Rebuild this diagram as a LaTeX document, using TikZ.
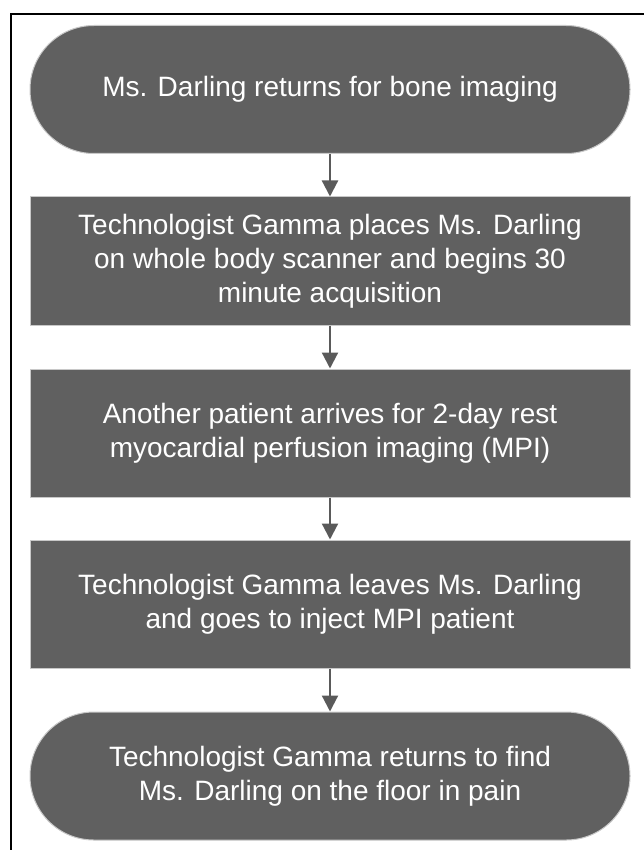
\documentclass[tikz,border=0pt]{standalone}
\usepackage{fontspec}
\setmainfont{Liberation Sans}
\usetikzlibrary{arrows.meta}
\definecolor{boxfill}{HTML}{606060}
\definecolor{boxedge}{HTML}{C8C8C8}
\definecolor{linkgray}{HTML}{5A5A5A}
\tikzset{
  flowbox/.style={draw=boxedge, line width=1pt, fill=boxfill, text=white,
    minimum width=600pt, minimum height=128pt, align=center, inner sep=0pt,
    font=\fontsize{28pt}{34pt}\selectfont},
  terminal/.style={flowbox, rounded corners=63.9pt},
  link/.style={draw=linkgray, line width=2.2pt,
    -{Triangle[length=16pt,width=16pt]}, shorten >=0pt}
}
\begin{document}
\begin{tikzpicture}[x=1pt,y=1pt]
  \useasboundingbox (0,0) rectangle (644,-850);
  % outer frame, running past the right and bottom edges
  \begin{scope}
    \clip (0,0) rectangle (644,-850);
    \draw[line width=2.2pt] (11,-14) rectangle (660,-870);
  \end{scope}
  \node[terminal] (n1) at (330,-89.5) {Ms. Darling returns for bone imaging};
  \node[flowbox]  (n2) at (330,-261) {Technologist Gamma places Ms. Darling\\on whole body scanner and begins 30\\minute acquisition};
  \node[flowbox]  (n3) at (330,-433) {Another patient arrives for 2-day rest\\myocardial perfusion imaging (MPI)};
  \node[flowbox]  (n4) at (330,-604) {Technologist Gamma leaves Ms. Darling\\and goes to inject MPI patient};
  \node[terminal] (n5) at (330,-776) {Technologist Gamma returns to find\\Ms. Darling on the floor in pain};
  \draw[link] (n1) -- (n2);
  \draw[link] (n2) -- (n3);
  \draw[link] (n3) -- (n4);
  \draw[link] (n4) -- (n5);
\end{tikzpicture}
\end{document}
